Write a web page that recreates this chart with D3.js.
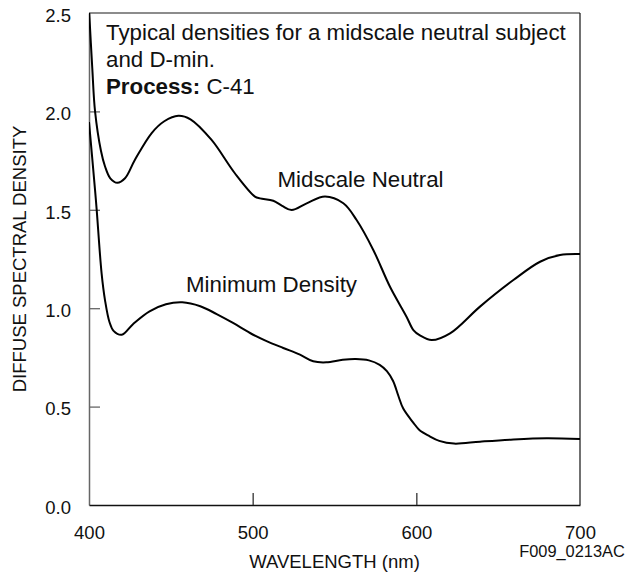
<!DOCTYPE html>
<html><head><meta charset="utf-8">
<script src="https://cdn.jsdelivr.net/npm/d3@7"></script>
<style>
html,body{margin:0;padding:0;background:#fff;}
svg text{font-family:"Liberation Sans",Arial,sans-serif;fill:#111;}
</style></head>
<body>
<svg id="chart" width="626" height="576"></svg>
<script>
// Data (wavelength nm, diffuse spectral density)
const midWavelength = [400,402,403.7,407.3,409.8,413,417.3,422,428,438.3,446,454.6,462,474.9,489,501.4,504.5,512.6,518,523.8,533,544.2,555.4,563.5,573.7,583.9,594,598.2,602.2,609.4,620.6,638.9,659.3,675.6,687.8,700];
const midDensity    = [2.52,2.22,2.0,1.80,1.72,1.66,1.637,1.66,1.753,1.89,1.95,1.978,1.96,1.855,1.687,1.567,1.558,1.546,1.52,1.499,1.533,1.567,1.533,1.448,1.296,1.109,0.957,0.889,0.862,0.838,0.872,1.008,1.143,1.236,1.270,1.275];
const minWavelength = [400,403.7,404.7,407.7,409.8,412.5,415,420,427,437,447,457,468,478,488,498.4,508.5,518.7,528.9,537,545,555,563,571,577.6,582,585.8,589,592,598,602,608,614,623,638.9,659.3,679.6,700];
const minDensity    = [1.946,1.60,1.50,1.177,1.04,0.93,0.885,0.865,0.92,0.984,1.02,1.03,1.01,0.97,0.925,0.874,0.833,0.798,0.764,0.73,0.725,0.738,0.742,0.735,0.712,0.68,0.63,0.555,0.49,0.42,0.38,0.35,0.326,0.312,0.322,0.333,0.339,0.335];
const xTicks = [400,500,600,700];
const yTicks = [0,0.5,1.0,1.5,2.0,2.5];
const seriesLabels = ["Midscale Neutral","Minimum Density"];
const noteLines = ["Typical densities for a midscale neutral subject","and D-min."];
const processLabel = ["Process:"," C-41"];
const xTitle = "WAVELENGTH (nm)";
const yTitle = "DIFFUSE SPECTRAL DENSITY";
const figId = "F009_0213AC";

const svg = d3.select("#chart");
const L=89, R=580, T=13, B=505;
const x = d3.scaleLinear().domain([400,700]).range([L,R]);
const y = d3.scaleLinear().domain([0,2.5]).range([B,T]);
const FONT = "'Liberation Sans',Arial,sans-serif";

svg.append("defs").append("clipPath").attr("id","clip")
  .append("rect").attr("x",L).attr("y",T).attr("width",R-L).attr("height",B-T);

// frame
svg.append("line").attr("x1",L).attr("x2",R).attr("y1",T).attr("y2",T).attr("stroke","#666").attr("stroke-width",1.5);
svg.append("line").attr("x1",R).attr("x2",R).attr("y1",T).attr("y2",B).attr("stroke","#111").attr("stroke-width",1.2);

// axes
const yAxis = d3.axisLeft(y).tickValues(yTicks).tickFormat(d3.format(".1f")).tickSizeInner(-11).tickSizeOuter(0).tickPadding(18);
const gy = svg.append("g").attr("transform",`translate(${L},0)`).call(yAxis);
gy.select(".domain").attr("stroke","#666").attr("stroke-width",1.5);
gy.selectAll(".tick line").attr("stroke","#666").attr("stroke-width",1.3)
  .attr("display",d=>(d===0||d===2.5)?"none":null);
gy.selectAll(".tick text").attr("font-size",18.5).attr("dy","0.45em").style("font-family",FONT).attr("fill","#111");

const xAxis = d3.axisBottom(x).tickValues(xTicks).tickFormat(d3.format("d")).tickSizeInner(-12).tickSizeOuter(0).tickPadding(34);
const gx = svg.append("g").attr("transform",`translate(0,${B})`).call(xAxis);
gx.select(".domain").attr("stroke","#111").attr("stroke-width",1.5);
gx.selectAll(".tick line").attr("stroke","#333").attr("stroke-width",1.3)
  .attr("display",d=>(d===400||d===700)?"none":null);
gx.selectAll(".tick text").attr("font-size",18.5).attr("dy","0").style("font-family",FONT).attr("fill","#111");

// curves
const line = d3.line().x(d=>x(d[0])).y(d=>y(d[1])).curve(d3.curveCatmullRom.alpha(0.5));
const mid = midWavelength.map((w,i)=>[w,midDensity[i]]);
const mn  = minWavelength.map((w,i)=>[w,minDensity[i]]);
const g = svg.append("g").attr("clip-path","url(#clip)");
[mid,mn].forEach(s=>g.append("path").datum(s).attr("d",line).attr("fill","none").attr("stroke","#000").attr("stroke-width",2));

// labels
const FS = 22.3;
svg.append("text").attr("x",277.5).attr("y",187).attr("font-size",FS).text(seriesLabels[0]);
svg.append("text").attr("x",186).attr("y",292).attr("font-size",FS).text(seriesLabels[1]);
noteLines.forEach((t,i)=>svg.append("text").attr("x",106).attr("y",40+i*26.5).attr("font-size",FS).text(t));
const p = svg.append("text").attr("x",106).attr("y",94).attr("font-size",FS);
p.append("tspan").attr("font-weight","bold").text(processLabel[0]);
p.append("tspan").text(processLabel[1]);

svg.append("text").attr("x",(L+R)/2).attr("y",568).attr("text-anchor","middle").attr("font-size",18.5).text(xTitle);
svg.append("text").attr("transform",`translate(26,${(T+B)/2}) rotate(-90)`).attr("text-anchor","middle").attr("font-size",18.5).text(yTitle);
svg.append("text").attr("x",572).attr("y",556.5).attr("text-anchor","middle").attr("font-size",16.4).text(figId);
</script>
</body></html>
